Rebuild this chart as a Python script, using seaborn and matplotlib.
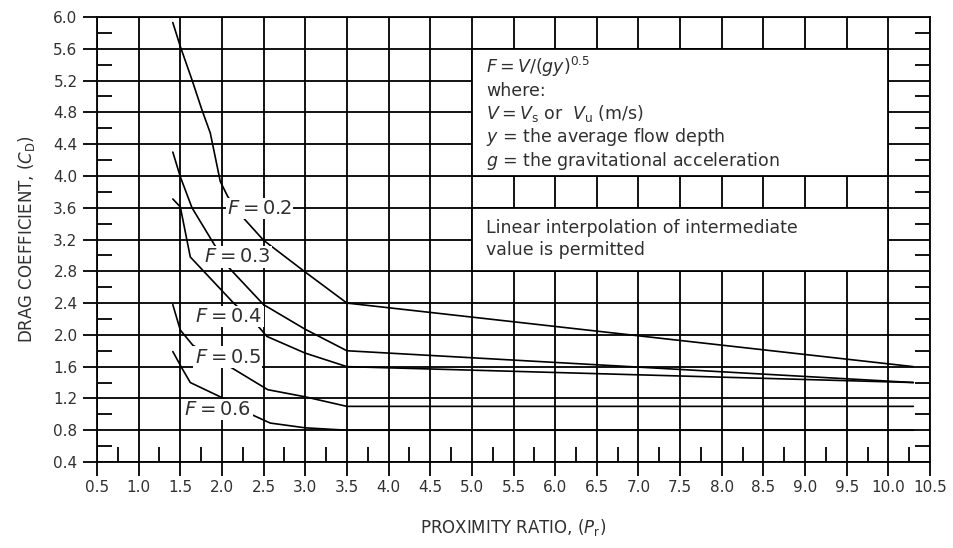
import numpy as np
import pandas as pd
import matplotlib
matplotlib.use("Agg")
import matplotlib.pyplot as plt
from matplotlib.patches import Rectangle
import seaborn as sns

# ---------------- data ----------------
froude = ["0.2", "0.3", "0.4", "0.5", "0.6"]

pr_02 = [1.41, 1.50, 1.64, 1.76, 1.86, 1.98, 2.07, 2.25, 2.50, 3.00, 3.50, 10.3]
cd_02 = [5.93, 5.63, 5.21, 4.83, 4.54, 3.93, 3.74, 3.48, 3.19, 2.79, 2.40, 1.60]

pr_03 = [1.41, 1.50, 1.64, 1.90, 2.07, 2.50, 3.00, 3.50, 10.3]
cd_03 = [4.30, 3.99, 3.60, 3.15, 2.86, 2.38, 2.07, 1.80, 1.40]

pr_04 = [1.41, 1.50, 1.62, 2.14, 2.40, 2.54, 3.00, 3.50, 10.3]
cd_04 = [3.71, 3.61, 2.98, 2.40, 2.15, 1.98, 1.77, 1.60, 1.40]

pr_05 = [1.41, 1.50, 1.65, 1.92, 2.55, 3.00, 3.50, 10.3]
cd_05 = [2.38, 2.06, 1.87, 1.71, 1.31, 1.22, 1.10, 1.10]

pr_06 = [1.41, 1.52, 1.62, 2.00, 2.37, 2.58, 3.00, 3.50, 10.3]
cd_06 = [1.79, 1.58, 1.40, 1.21, 0.99, 0.89, 0.83, 0.80, 0.80]

# curve label anchor positions (Pr, Cd)
label_pr = [2.45, 2.19, 2.08, 2.07, 1.95]
label_cd = [3.59, 2.98, 2.23, 1.72, 1.06]

x_ticks = [0.5, 1.0, 1.5, 2.0, 2.5, 3.0, 3.5, 4.0, 4.5, 5.0, 5.5, 6.0, 6.5,
           7.0, 7.5, 8.0, 8.5, 9.0, 9.5, 10.0, 10.5]
y_ticks = [0.4, 0.8, 1.2, 1.6, 2.0, 2.4, 2.8, 3.2, 3.6, 4.0, 4.4, 4.8, 5.2, 5.6, 6.0]
x_tick_labels = ["%.1f" % v for v in x_ticks]
y_tick_labels = ["%.1f" % v for v in y_ticks]

box_text_1 = [r"$F = V/(gy)^{0.5}$",
              "where:",
              r"$V = V_{\rm s}$ or  $V_{\rm u}$ (m/s)",
              r"$y$ = the average flow depth",
              r"$g$ = the gravitational acceleration"]
box_text_2 = ["Linear interpolation of intermediate",
              "value is permitted"]

series = {"0.2": (pr_02, cd_02), "0.3": (pr_03, cd_03), "0.4": (pr_04, cd_04),
          "0.5": (pr_05, cd_05), "0.6": (pr_06, cd_06)}

rows = []
for f in froude:
    xs, ys = series[f]
    for xv, yv in zip(xs, ys):
        rows.append({"F": f, "Pr": xv, "Cd": yv})
df = pd.DataFrame(rows)

# ---------------- style ----------------
sns.set_style("white")
plt.rcParams["font.family"] = ["DejaVu Sans"]
plt.rcParams["mathtext.fontset"] = "dejavusans"
TXT = "#303030"

fig = plt.figure(figsize=(9.54, 5.48), dpi=100)
ax = fig.add_axes([97 / 954, 1 - 462 / 548, (930 - 97) / 954, (462 - 17) / 548])

sns.lineplot(data=df, x="Pr", y="Cd", hue="F", estimator=None,
             sort=False, palette={f: "black" for f in froude}, legend=False,
             lw=1.2, ax=ax, zorder=3)

ax.set_xlim(0.5, 10.5)
ax.set_ylim(0.4, 6.0)

ax.set_xticks(x_ticks)
ax.set_xticklabels(x_tick_labels)
ax.set_yticks(y_ticks)
ax.set_yticklabels(y_tick_labels)
ax.set_xticks(np.arange(0.75, 10.5, 0.5), minor=True)
ax.set_yticks(np.arange(0.6, 6.0, 0.4), minor=True)

ax.grid(which="major", color="black", lw=1.3)
ax.set_axisbelow(True)

ax.tick_params(axis="x", which="major", direction="out", length=10, width=1.3,
               color="black", labelsize=11, labelcolor=TXT, pad=3, bottom=True, top=False)
ax.tick_params(axis="x", which="minor", direction="in", length=11, width=1.3,
               color="black", bottom=True, top=False)
ax.tick_params(axis="y", which="major", direction="out", length=10, width=1.3,
               color="black", labelsize=11, labelcolor=TXT, pad=4, left=True, right=False)
ax.tick_params(axis="y", which="minor", direction="in", length=11, width=1.3,
               color="black", left=True, right=True)

for s in ax.spines.values():
    s.set_visible(True)
    s.set_color("black")
    s.set_linewidth(1.3)

ax.set_xlabel(r"PROXIMITY RATIO, ($P_{\rm r}$)", fontsize=12, color=TXT, labelpad=16)
ax.set_ylabel(r"DRAG COEFFICIENT, ($C_{\rm D}$)", fontsize=12, color=TXT, labelpad=12)

# curve labels
for f, lx, ly in zip(froude, label_pr, label_cd):
    ax.text(lx, ly, r"$F = %s$" % f, fontsize=14, color=TXT, ha="center", va="center",
            zorder=5, bbox=dict(facecolor="white", edgecolor="none", pad=1.0))

# note boxes
ax.add_patch(Rectangle((5.0, 4.0), 5.0, 1.6, facecolor="white", edgecolor="black",
                       lw=1.3, zorder=2.5))
ax.add_patch(Rectangle((5.0, 2.8), 5.0, 0.8, facecolor="white", edgecolor="black",
                       lw=1.3, zorder=2.5))
for i, t in enumerate(box_text_1):
    ax.text(5.17, 5.37 - i * 0.295, t, fontsize=12.5, color=TXT, ha="left",
            va="center", zorder=6)
for i, t in enumerate(box_text_2):
    ax.text(5.17, 3.35 - i * 0.28, t, fontsize=12.5, color=TXT, ha="left",
            va="center", zorder=6)

fig.savefig("out.png", dpi=100)
